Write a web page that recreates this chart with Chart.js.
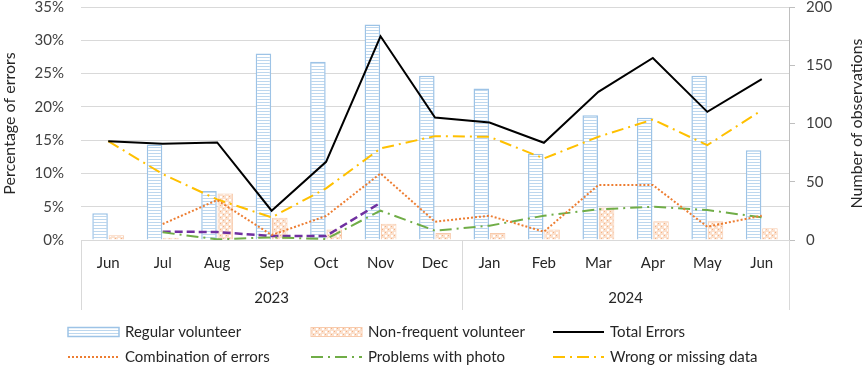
<!DOCTYPE html>
<html>
<head>
<meta charset="utf-8">
<script src="https://cdn.jsdelivr.net/npm/chart.js@4.4.1/dist/chart.umd.min.js"></script>
<style>
  body { margin: 0; background: #fff; }
  canvas { display: block; }
</style>
</head>
<body>
<canvas id="myChart" width="865" height="365"></canvas>
<script>
    // dados
    const meses = ['Jun', 'Jul', 'Aug', 'Sep', 'Oct', 'Nov', 'Dec', 'Jan', 'Feb', 'Mar', 'Apr', 'May', 'Jun'];
    const anos = ['2023', '2024'];
    const anosPosicao = [3.5, 10];      // centro de cada grupo de meses
    const anosDivisao = [0, 7, 13];     // linhas entre os grupos

    // número de observações (eixo da direita)
    const regular = [23, 82, 42, 160, 153, 185, 141, 130, 74, 107, 105, 141, 77];
    const naoFrequente = [4, 2, 40, 19, 9, 14, 6, 6, 9, 28, 16, 16, 10];

    // percentual de erros (eixo da esquerda)
    const totalErros = [14.85, 14.45, 14.65, 4.4, 11.75, 30.6, 18.4, 17.65, 14.6, 22.25, 27.35, 19.25, 24.15];
    const combinacao = [null, 2.4, 6, 0.75, 3.6, 10, 2.75, 3.65, 1.25, 8.25, 8.25, 2, 3.65];
    const foto = [null, 1.15, 0.1, 0.4, 0.15, 4.4, 1.4, 2.15, 3.65, 4.6, 5, 4.5, 3.4];
    const dadoErrado = [14.85, 9.9, 6.1, 3.4, 7.75, 13.75, 15.6, 15.5, 12.25, 15.5, 18.1, 14.25, 19.5];
    const roxo = [null, 1.25, 1.2, 0.6, 0.6, 5.6, null, null, null, null, null, null, null];

    Chart.defaults.font.family = 'Lato';
    Chart.defaults.font.size = 15;
    Chart.defaults.color = '#262626';

    // padrões das barras
    function padraoAzul() {
        const c = document.createElement('canvas');
        c.width = 4; c.height = 3;
        const g = c.getContext('2d');
        g.fillStyle = '#ffffff';
        g.fillRect(0, 0, 4, 3);
        g.fillStyle = '#bdd7ee';
        g.fillRect(0, 0, 4, 1);
        return g.createPattern(c, 'repeat');
    }

    function padraoLaranja() {
        const c = document.createElement('canvas');
        c.width = 6; c.height = 6;
        const g = c.getContext('2d');
        g.fillStyle = '#fbe0cd';
        g.fillRect(0, 0, 6, 6);
        g.fillStyle = '#ffffff';
        g.fillRect(1, 1, 2, 2);
        g.fillRect(4, 4, 2, 2);
        g.fillStyle = '#f4b183';
        g.fillRect(4, 1, 1, 1);
        g.fillRect(1, 4, 1, 1);
        return g.createPattern(c, 'repeat');
    }

    // linhas que separam os anos, título do eixo direito e legenda
    const extrasPlugin = {
        id: 'extras',
        afterDraw(chart) {
            const ctx = chart.ctx;
            const area = chart.chartArea;
            const escalaAno = chart.scales.ano;

            ctx.save();
            ctx.strokeStyle = '#d9d9d9';
            ctx.lineWidth = 1;
            anosDivisao.forEach(function (v) {
                const x = Math.round(escalaAno.getPixelForValue(v)) + 0.5;
                ctx.beginPath();
                ctx.moveTo(x, area.bottom);
                ctx.lineTo(x, 310);
                ctx.stroke();
            });

            // título do eixo direito, lido de baixo para cima
            ctx.translate(857, (area.top + area.bottom) / 2);
            ctx.rotate(-Math.PI / 2);
            ctx.font = '16px Lato';
            ctx.fillStyle = '#262626';
            ctx.textAlign = 'center';
            ctx.textBaseline = 'middle';
            ctx.fillText('Number of observations', 0, 0);
            ctx.restore();

            // legenda em 3 colunas
            const colunas = [68, 311, 553];
            const linhas = [332, 357];
            let n = 0;
            chart.data.datasets.forEach(function (ds) {
                if (ds.hideInLegend) return;
                const x = colunas[n % 3];
                const y = linhas[Math.floor(n / 3)];
                ctx.save();
                if (ds.type === 'bar') {
                    ctx.fillStyle = ds.backgroundColor;
                    ctx.fillRect(x, y - 4.5, 51, 9);
                    ctx.strokeStyle = ds.borderColor;
                    ctx.lineWidth = ds.borderWidth;
                    ctx.strokeRect(x, y - 4.5, 51, 9);
                } else {
                    ctx.strokeStyle = ds.borderColor;
                    ctx.lineWidth = ds.borderWidth;
                    ctx.setLineDash(ds.borderDash || []);
                    ctx.beginPath();
                    ctx.moveTo(x, y);
                    ctx.lineTo(x + 51, y);
                    ctx.stroke();
                }
                ctx.fillStyle = '#262626';
                ctx.font = '15px Lato';
                ctx.textBaseline = 'middle';
                ctx.fillText(ds.label, x + 57, y);
                ctx.restore();
                n++;
            });
        }
    };

    // fixa o topo da área do gráfico
    function ajustarVertical(largura) {
        return function (s) {
            s.width = largura;
            s.paddingTop = 7;
            s.paddingBottom = 0;
        };
    }

    const dados = {
        labels: meses,
        datasets: [
            {
                type: 'bar', label: 'Regular volunteer', data: regular, yAxisID: 'y1', order: 2,
                backgroundColor: padraoAzul(), borderColor: '#9dc3e6', borderWidth: 1.5,
                categoryPercentage: 0.6, barPercentage: 0.95
            },
            {
                type: 'bar', label: 'Non-frequent volunteer', data: naoFrequente, yAxisID: 'y1', order: 2,
                backgroundColor: padraoLaranja(), borderColor: '#f8cbad', borderWidth: 1,
                categoryPercentage: 0.6, barPercentage: 0.95
            },
            {
                type: 'line', label: 'Total Errors', data: totalErros, yAxisID: 'y', order: 1,
                borderColor: '#000000', borderWidth: 2, pointRadius: 0, tension: 0
            },
            {
                type: 'line', label: 'Combination of errors', data: combinacao, yAxisID: 'y', order: 1,
                borderColor: '#ed7d31', borderWidth: 2, borderDash: [2, 2], pointRadius: 0, tension: 0
            },
            {
                type: 'line', label: 'Problems with photo', data: foto, yAxisID: 'y', order: 1,
                borderColor: '#70ad47', borderWidth: 2, borderDash: [12, 5, 2, 5], pointRadius: 0, tension: 0
            },
            {
                type: 'line', label: 'Wrong or missing data', data: dadoErrado, yAxisID: 'y', order: 1,
                borderColor: '#ffc000', borderWidth: 2, borderDash: [12, 5, 2, 5], pointRadius: 0, tension: 0
            },
            {
                type: 'line', label: 'Other', data: roxo, yAxisID: 'y', order: 1, hideInLegend: true,
                borderColor: '#7030a0', borderWidth: 2.5, borderDash: [8, 4], pointRadius: 0, tension: 0
            }
        ]
    };

    const config = {
        data: dados,
        plugins: [extrasPlugin],
        options: {
            responsive: false,
            animation: false,
            layout: { padding: { top: 0, bottom: 50, left: 0, right: 0 } },
            plugins: {
                legend: { display: false },
                tooltip: { enabled: false }
            },
            scales: {
                x: {
                    position: 'bottom',
                    weight: 0,
                    grid: { display: false, drawTicks: false },
                    border: { display: false },
                    ticks: { padding: 14, maxRotation: 0, autoSkip: false },
                    afterFit: function (s) { s.height = 40; }
                },
                ano: {
                    type: 'linear',
                    position: 'bottom',
                    weight: 1,
                    min: 0,
                    max: 13,
                    grid: { display: false, drawTicks: false },
                    border: { display: false },
                    afterBuildTicks: function (s) {
                        s.ticks = anosPosicao.map(function (v) { return { value: v }; });
                    },
                    ticks: {
                        padding: 9, maxRotation: 0, autoSkip: false,
                        callback: function (v, i) { return anos[i]; }
                    },
                    afterFit: function (s) { s.height = 35; }
                },
                y: {
                    position: 'left',
                    min: 0,
                    max: 35,
                    grid: { color: '#d9d9d9', drawTicks: false },
                    border: { display: false },
                    ticks: {
                        stepSize: 5, padding: 17, color: '#404040',
                        font: { lineHeight: 1 },
                        callback: function (v) { return v + '%'; }
                    },
                    title: {
                        display: true, text: 'Percentage of errors',
                        font: { size: 16 }, padding: { top: 0, bottom: 0 }
                    },
                    afterFit: ajustarVertical(81)
                },
                y1: {
                    position: 'right',
                    min: 0,
                    max: 200,
                    grid: { drawOnChartArea: false, color: '#bfbfbf', tickLength: 6 },
                    border: { display: true, color: '#bfbfbf' },
                    ticks: { stepSize: 50, padding: 11, color: '#404040', font: { lineHeight: 1 } },
                    afterFit: ajustarVertical(76)
                }
            }
        }
    };

    const myChart = new Chart(
        document.getElementById('myChart'),
        config
    );
</script>
</body>
</html>
